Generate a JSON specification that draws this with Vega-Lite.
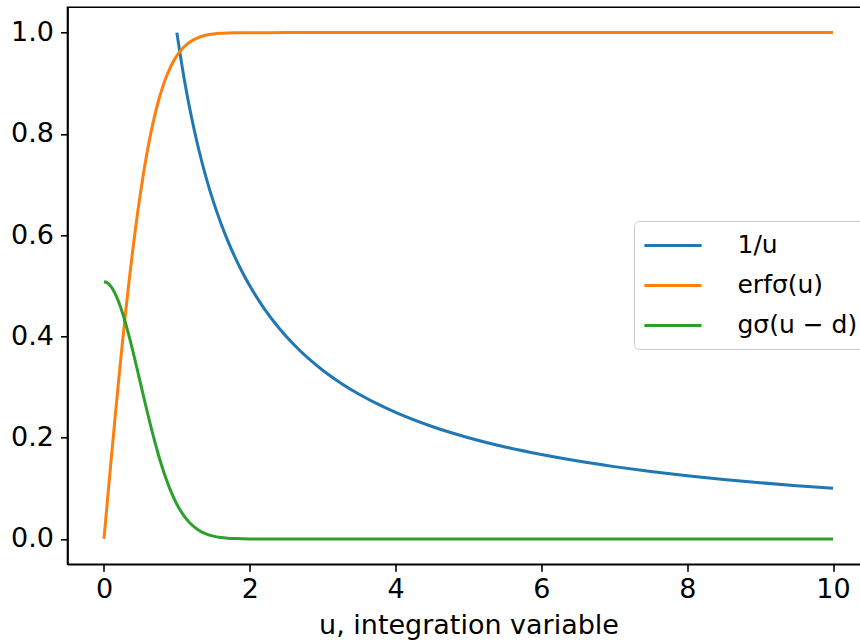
{
  "$schema": "https://vega.github.io/schema/vega-lite/v6.json",
  "autosize": "none",
  "padding": {"left": 67.5, "top": 7.3, "right": 0, "bottom": 77},
  "width": 802,
  "height": 557,
  "background": "white",
  "config": {
    "font": "DejaVu Sans",
    "view": {"stroke": "black", "strokeWidth": 1.6},
    "axis": {
      "grid": false,
      "domainColor": "black",
      "domainWidth": 1.6,
      "tickColor": "black",
      "tickWidth": 1.6,
      "tickSize": 7,
      "labelColor": "black",
      "labelFont": "DejaVu Sans",
      "labelFontSize": 27,
      "titleFont": "DejaVu Sans",
      "titleFontSize": 27,
      "titleFontWeight": "normal",
      "titleColor": "black"
    }
  },
  "data": {
    "values": [
      {"u": 1.0, "y": 1.0, "s": "1/u"},
      {"u": 1.1, "y": 0.9091, "s": "1/u"},
      {"u": 1.2, "y": 0.8333, "s": "1/u"},
      {"u": 1.3, "y": 0.7692, "s": "1/u"},
      {"u": 1.4, "y": 0.7143, "s": "1/u"},
      {"u": 1.5, "y": 0.6667, "s": "1/u"},
      {"u": 1.6, "y": 0.625, "s": "1/u"},
      {"u": 1.7, "y": 0.5882, "s": "1/u"},
      {"u": 1.8, "y": 0.5556, "s": "1/u"},
      {"u": 1.9, "y": 0.5263, "s": "1/u"},
      {"u": 2.0, "y": 0.5, "s": "1/u"},
      {"u": 2.2, "y": 0.4545, "s": "1/u"},
      {"u": 2.4, "y": 0.4167, "s": "1/u"},
      {"u": 2.6, "y": 0.3846, "s": "1/u"},
      {"u": 2.8, "y": 0.3571, "s": "1/u"},
      {"u": 3.0, "y": 0.3333, "s": "1/u"},
      {"u": 3.25, "y": 0.3077, "s": "1/u"},
      {"u": 3.5, "y": 0.2857, "s": "1/u"},
      {"u": 3.75, "y": 0.2667, "s": "1/u"},
      {"u": 4.0, "y": 0.25, "s": "1/u"},
      {"u": 4.5, "y": 0.2222, "s": "1/u"},
      {"u": 5.0, "y": 0.2, "s": "1/u"},
      {"u": 5.5, "y": 0.1818, "s": "1/u"},
      {"u": 6.0, "y": 0.1667, "s": "1/u"},
      {"u": 6.5, "y": 0.1538, "s": "1/u"},
      {"u": 7.0, "y": 0.1429, "s": "1/u"},
      {"u": 7.5, "y": 0.1333, "s": "1/u"},
      {"u": 8.0, "y": 0.125, "s": "1/u"},
      {"u": 8.5, "y": 0.1176, "s": "1/u"},
      {"u": 9.0, "y": 0.1111, "s": "1/u"},
      {"u": 9.5, "y": 0.1053, "s": "1/u"},
      {"u": 10.0, "y": 0.1, "s": "1/u"},

      {"u": 0.0, "y": 0.0, "s": "erfσ(u)"},
      {"u": 0.05, "y": 0.0797, "s": "erfσ(u)"},
      {"u": 0.1, "y": 0.1585, "s": "erfσ(u)"},
      {"u": 0.15, "y": 0.2358, "s": "erfσ(u)"},
      {"u": 0.2, "y": 0.3108, "s": "erfσ(u)"},
      {"u": 0.25, "y": 0.3829, "s": "erfσ(u)"},
      {"u": 0.3, "y": 0.4515, "s": "erfσ(u)"},
      {"u": 0.35, "y": 0.5161, "s": "erfσ(u)"},
      {"u": 0.4, "y": 0.5763, "s": "erfσ(u)"},
      {"u": 0.45, "y": 0.6319, "s": "erfσ(u)"},
      {"u": 0.5, "y": 0.6827, "s": "erfσ(u)"},
      {"u": 0.55, "y": 0.7287, "s": "erfσ(u)"},
      {"u": 0.6, "y": 0.7699, "s": "erfσ(u)"},
      {"u": 0.65, "y": 0.8064, "s": "erfσ(u)"},
      {"u": 0.7, "y": 0.8385, "s": "erfσ(u)"},
      {"u": 0.75, "y": 0.8664, "s": "erfσ(u)"},
      {"u": 0.8, "y": 0.8904, "s": "erfσ(u)"},
      {"u": 0.85, "y": 0.9109, "s": "erfσ(u)"},
      {"u": 0.9, "y": 0.9281, "s": "erfσ(u)"},
      {"u": 0.95, "y": 0.9426, "s": "erfσ(u)"},
      {"u": 1.0, "y": 0.9545, "s": "erfσ(u)"},
      {"u": 1.1, "y": 0.9722, "s": "erfσ(u)"},
      {"u": 1.2, "y": 0.9836, "s": "erfσ(u)"},
      {"u": 1.3, "y": 0.9907, "s": "erfσ(u)"},
      {"u": 1.4, "y": 0.9949, "s": "erfσ(u)"},
      {"u": 1.5, "y": 0.9973, "s": "erfσ(u)"},
      {"u": 1.6, "y": 0.9986, "s": "erfσ(u)"},
      {"u": 1.7, "y": 0.9993, "s": "erfσ(u)"},
      {"u": 1.8, "y": 0.9997, "s": "erfσ(u)"},
      {"u": 2.0, "y": 0.9999, "s": "erfσ(u)"},
      {"u": 2.5, "y": 1.0, "s": "erfσ(u)"},
      {"u": 4.0, "y": 1.0, "s": "erfσ(u)"},
      {"u": 6.0, "y": 1.0, "s": "erfσ(u)"},
      {"u": 8.0, "y": 1.0, "s": "erfσ(u)"},
      {"u": 10.0, "y": 1.0, "s": "erfσ(u)"},

      {"u": 0.0, "y": 0.508, "s": "gσ(u − d)"},
      {"u": 0.05, "y": 0.5055, "s": "gσ(u − d)"},
      {"u": 0.1, "y": 0.4979, "s": "gσ(u − d)"},
      {"u": 0.15, "y": 0.4856, "s": "gσ(u − d)"},
      {"u": 0.2, "y": 0.4689, "s": "gσ(u − d)"},
      {"u": 0.25, "y": 0.4483, "s": "gσ(u − d)"},
      {"u": 0.3, "y": 0.4243, "s": "gσ(u − d)"},
      {"u": 0.35, "y": 0.3976, "s": "gσ(u − d)"},
      {"u": 0.4, "y": 0.3689, "s": "gσ(u − d)"},
      {"u": 0.45, "y": 0.3388, "s": "gσ(u − d)"},
      {"u": 0.5, "y": 0.3081, "s": "gσ(u − d)"},
      {"u": 0.55, "y": 0.2774, "s": "gσ(u − d)"},
      {"u": 0.6, "y": 0.2473, "s": "gσ(u − d)"},
      {"u": 0.65, "y": 0.2182, "s": "gσ(u − d)"},
      {"u": 0.7, "y": 0.1907, "s": "gσ(u − d)"},
      {"u": 0.75, "y": 0.1649, "s": "gσ(u − d)"},
      {"u": 0.8, "y": 0.1412, "s": "gσ(u − d)"},
      {"u": 0.85, "y": 0.1197, "s": "gσ(u − d)"},
      {"u": 0.9, "y": 0.1005, "s": "gσ(u − d)"},
      {"u": 0.95, "y": 0.0836, "s": "gσ(u − d)"},
      {"u": 1.0, "y": 0.0687, "s": "gσ(u − d)"},
      {"u": 1.1, "y": 0.0452, "s": "gσ(u − d)"},
      {"u": 1.2, "y": 0.0285, "s": "gσ(u − d)"},
      {"u": 1.3, "y": 0.0173, "s": "gσ(u − d)"},
      {"u": 1.4, "y": 0.0101, "s": "gσ(u − d)"},
      {"u": 1.5, "y": 0.0056, "s": "gσ(u − d)"},
      {"u": 1.6, "y": 0.003, "s": "gσ(u − d)"},
      {"u": 1.7, "y": 0.0016, "s": "gσ(u − d)"},
      {"u": 1.8, "y": 0.0008, "s": "gσ(u − d)"},
      {"u": 2.0, "y": 0.0002, "s": "gσ(u − d)"},
      {"u": 2.5, "y": 0.0, "s": "gσ(u − d)"},
      {"u": 4.0, "y": 0.0, "s": "gσ(u − d)"},
      {"u": 6.0, "y": 0.0, "s": "gσ(u − d)"},
      {"u": 8.0, "y": 0.0, "s": "gσ(u − d)"},
      {"u": 10.0, "y": 0.0, "s": "gσ(u − d)"}
    ]
  },
  "mark": {"type": "line", "strokeWidth": 3, "interpolate": "monotone"},
  "encoding": {
    "x": {
      "field": "u",
      "type": "quantitative",
      "scale": {"domain": [-0.5, 10.5], "nice": false, "zero": false},
      "axis": {"values": [0, 2, 4, 6, 8, 10], "format": "d", "labelPadding": 5, "title": "u, integration variable", "titlePadding": 10, "labelFlush": false}
    },
    "y": {
      "field": "y",
      "type": "quantitative",
      "scale": {"domain": [-0.05, 1.05], "nice": false, "zero": false},
      "axis": {"values": [0, 0.2, 0.4, 0.6, 0.8, 1.0], "format": ".1f", "labelPadding": 7, "title": null, "labelFlush": false}
    },
    "color": {
      "field": "s",
      "type": "nominal",
      "sort": ["1/u", "erfσ(u)", "gσ(u − d)"],
      "scale": {"domain": ["1/u", "erfσ(u)", "gσ(u − d)"], "range": ["#1f77b4", "#ff7f0e", "#2ca02c"]},
      "legend": {
        "title": null,
        "orient": "none",
        "legendX": 566.5,
        "legendY": 213.7,
        "padding": 10,
        "strokeColor": "#cccccc",
        "fillColor": "white",
        "cornerRadius": 5,
        "symbolType": "M-2.2,0H2.2",
        "symbolSize": 676,
        "symbolStrokeWidth": 3,
        "symbolOffset": 14.5,
        "labelFont": "DejaVu Sans",
        "labelFontSize": 25,
        "labelColor": "black",
        "labelOffset": 50,
        "rowPadding": 12,
        "labelLimit": 300
      }
    }
  }
}
